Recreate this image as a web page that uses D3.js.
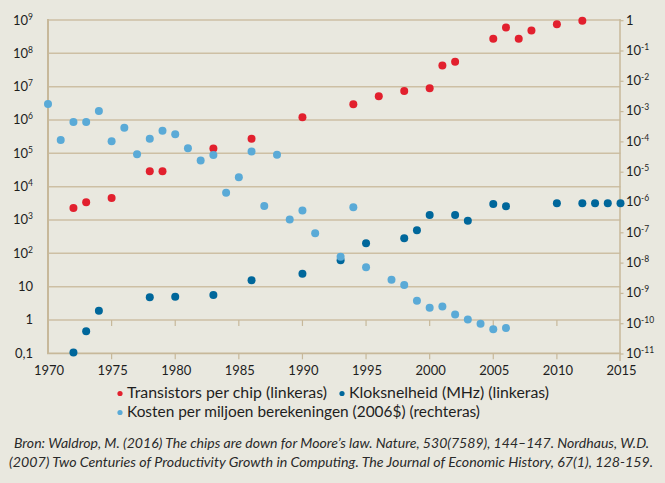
<!DOCTYPE html>
<html><head><meta charset="utf-8">
<script src="https://cdn.jsdelivr.net/npm/d3@7"></script>
<style>
html,body{margin:0;padding:0;background:#e9e8df;}
svg{display:block;}
</style></head>
<body>
<svg id="chart" width="665" height="483"></svg>
<script>
// ---- data ----
const transistorYears = [1972,1973,1975,1978,1979,1983,1986,1990,1994,1996,1998,2000,2001,2002,2005,2006,2007,2008,2010,2012];
const transistorValues = [2300,3400,4600,29000,29000,140000,275000,1200000,2960000,5200000,7400000,8900000,43000000,56000000,275000000,600000000,275000000,480000000,740000000,950000000];

const clockYears = [1972,1973,1974,1978,1980,1983,1986,1990,1993,1995,1998,1999,2000,2002,2003,2005,2006,2010,2012,2013,2014,2015];
const clockValues = [0.105,0.46,1.9,4.8,5.0,5.6,15.5,24.5,62,200,282,490,1400,1400,950,3000,2600,3200,3200,3200,3200,3200];

const costYears = [1970,1971,1972,1973,1974,1975,1976,1977,1978,1979,1980,1981,1982,1983,1984,1985,1986,1987,1988,1989,1990,1991,1993,1994,1995,1997,1998,1999,2000,2001,2002,2003,2004,2005,2006];
const costValues = [1.7e-3,1.1e-4,4.3e-4,4.3e-4,1.0e-3,1.0e-4,2.8e-4,3.7e-5,1.2e-4,2.2e-4,1.7e-4,5.8e-5,2.3e-5,3.5e-5,2.0e-6,6.4e-6,4.6e-5,7.3e-7,3.6e-5,2.6e-7,5.2e-7,9.1e-8,1.55e-8,6.6e-7,6.9e-9,2.7e-9,1.8e-9,5.4e-10,3.2e-10,3.5e-10,1.9e-10,1.3e-10,9.5e-11,6.2e-11,6.8e-11];

const xTickYears = [1970,1975,1980,1985,1990,1995,2000,2005,2010,2015];
const leftTickExps = [9,8,7,6,5,4,3,2,1,0,-1];
const rightTickExps = [0,-1,-2,-3,-4,-5,-6,-7,-8,-9,-10,-11];

const legendLabels = ["Transistors per chip (linkeras)","Kloksnelheid (MHz) (linkeras)","Kosten per miljoen berekeningen (2006$) (rechteras)"];
const captionLines = ["Bron: Waldrop, M. (2016) The chips are down for Moore\u2019s law. Nature, 530(7589), 144\u2013147. Nordhaus, W.D.",
 "(2007) Two Centuries of Productivity Growth in Computing. The Journal of Economic History, 67(1), 128-159."];

// ---- styles ----
const RED="#e2202e", DARK="#00679b", LIGHT="#5aaad7", GRID="#cdbfa4", AXIS="#c7b89a", TXT="#1e1e1e";
const FONT="Lato, 'Open Sans', sans-serif";

const svg = d3.select("#chart");
svg.append("rect").attr("width",665).attr("height",483).attr("fill","#e9e8df");

const x = d3.scaleLinear().domain([1970,2015]).range([48,620.5]);
const yL = d3.scaleLog().domain([0.1,1e9]).range([353.3,20]);
const yR = d3.scaleLog().domain([1e-11,1]).range([353.3,20]);

// gridlines (left decades)
svg.append("g").selectAll("line").data(leftTickExps.filter(e=>e>-1)).join("line")
  .attr("x1",48).attr("x2",620.5)
  .attr("y1",e=>yL(Math.pow(10,e))).attr("y2",e=>yL(Math.pow(10,e)))
  .attr("stroke",GRID).attr("stroke-width",1.5);
// bottom axis line
svg.append("line").attr("x1",47).attr("x2",621).attr("y1",yL(0.1)).attr("y2",yL(0.1))
  .attr("stroke",AXIS).attr("stroke-width",1.8);

// left & right axis lines
svg.append("line").attr("x1",48).attr("x2",48).attr("y1",19).attr("y2",354).attr("stroke",AXIS).attr("stroke-width",2);
svg.append("line").attr("x1",620).attr("x2",620).attr("y1",19).attr("y2",361).attr("stroke",AXIS).attr("stroke-width",1.5);

// right axis ticks
svg.append("g").selectAll("line").data(rightTickExps).join("line")
  .attr("x1",620).attr("x2",623.5)
  .attr("y1",e=>yR(Math.pow(10,e))+0.7).attr("y2",e=>yR(Math.pow(10,e))+0.7)
  .attr("stroke",AXIS).attr("stroke-width",1.2);

// x ticks (at value 1 line and bottom line)
const innerYears = xTickYears.filter(d=>d>1970 && d<2015);
[yL(1), yL(0.1)].forEach(yy=>{
  svg.append("g").selectAll("line").data(innerYears).join("line")
    .attr("x1",d=>x(d)).attr("x2",d=>x(d)).attr("y1",yy).attr("y2",yy+6)
    .attr("stroke",AXIS).attr("stroke-width",1.2);
});

// x tick labels
svg.append("g").selectAll("text").data(xTickYears).join("text")
  .attr("x",d=>x(d)+1).attr("y",375).attr("text-anchor","middle")
  .attr("font-family",FONT).attr("font-size",13).attr("fill",TXT).text(d=>d);

// power label helper
function powLabel(g, e, anchor){
  const t = g.append("text").attr("font-family",FONT).attr("font-size",13).attr("fill",TXT)
    .attr("text-anchor",anchor);
  if(e===0){ t.text("1"); }
  else if(e===1){ t.text("10"); }
  else if(e===-1 && anchor==="end"){ t.text("0,1"); }
  else {
    t.append("tspan").text("10");
    t.append("tspan").attr("dy",-5).attr("font-size",8.5).text(e<0 ? "-"+(-e) : e);
  }
  return t;
}
const gl = svg.append("g");
leftTickExps.forEach(e=>{
  powLabel(gl,e,"end").attr("x",33).attr("y",yL(Math.pow(10,e))+4.5);
});
const gr = svg.append("g");
rightTickExps.forEach(e=>{
  powLabel(gr,e,"start").attr("x",626).attr("y",yR(Math.pow(10,e))+4.5);
});

// points
const R=4;
function dots(years, vals, yScale, color){
  svg.append("g").selectAll("circle").data(years.map((yr,i)=>[yr,vals[i]])).join("circle")
    .attr("cx",d=>x(d[0])).attr("cy",d=>yScale(d[1])).attr("r",R).attr("fill",color);
}
dots(transistorYears, transistorValues, yL, RED);
dots(clockYears, clockValues, yL, DARK);
dots(costYears, costValues, yR, LIGHT);

// legend
const legend = [
  {label:legendLabels[0], color:RED, dx:120, ty:398, w:200},
  {label:legendLabels[1], color:DARK, dx:342, ty:398, w:200},
  {label:legendLabels[2], color:LIGHT, dx:120, ty:417, w:353}
];
const lg = svg.append("g");
legend.forEach(l=>{
  lg.append("circle").attr("cx",l.dx).attr("cy",l.ty-4.5).attr("r",2.6).attr("fill",l.color);
  lg.append("text").attr("x",l.dx+7).attr("y",l.ty).attr("font-family",FONT).attr("font-size",15.5)
    .attr("fill",TXT).attr("textLength",l.w).attr("lengthAdjust","spacingAndGlyphs").text(l.label);
});

// caption
const capPos = [{x:14,y:448,w:635},{x:9,y:467,w:644}];
captionLines.forEach((c,i)=>{
  svg.append("text").attr("x",capPos[i].x).attr("y",capPos[i].y).attr("font-family",FONT)
    .attr("font-style","italic").attr("font-size",14).attr("fill","#2a2a2a")
    .attr("textLength",capPos[i].w).attr("lengthAdjust","spacingAndGlyphs").text(c);
});
</script>
</body></html>
